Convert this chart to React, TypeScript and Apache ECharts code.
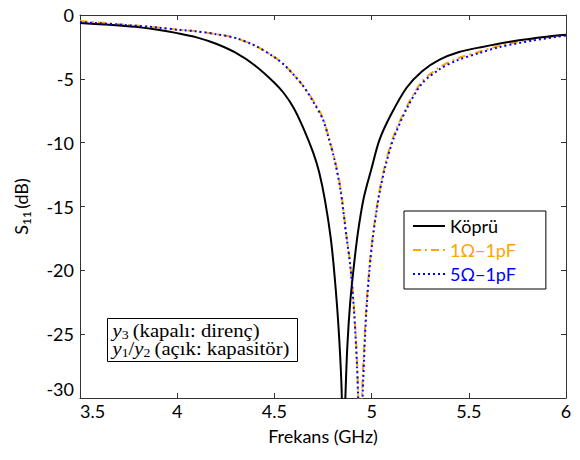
import React, { useEffect, useRef } from "react";
import * as echarts from "echarts";

// Frequency (GHz) and S11 (dB) for each curve
const freqBridge = [3.5, 3.6, 3.7, 3.8, 3.9, 4.0, 4.1, 4.2, 4.3, 4.4, 4.5, 4.55, 4.6, 4.65, 4.7, 4.73, 4.76, 4.79, 4.81, 4.83, 4.845, 4.855, 4.865, 4.875, 4.89, 4.91, 4.93, 4.96, 5.0, 5.04, 5.1, 5.18, 5.26, 5.35, 5.45, 5.57, 5.75, 5.9, 6.0];
const s11Bridge = [-0.63, -0.72, -0.82, -0.95, -1.15, -1.42, -1.75, -2.25, -2.95, -3.95, -5.3, -6.15, -7.3, -8.9, -10.8, -12.3, -14.5, -17.5, -20.5, -24.5, -29, -35, -30, -26, -22.5, -19.5, -17, -14.3, -12, -9.8, -7.8, -5.7, -4.4, -3.5, -2.9, -2.5, -2.0, -1.7, -1.55];

const freq1R = [3.5, 3.7, 3.9, 4.0, 4.1, 4.2, 4.3, 4.4, 4.5, 4.55, 4.6, 4.65, 4.7, 4.75, 4.78, 4.81, 4.84, 4.87, 4.89, 4.91, 4.925, 4.94, 4.955, 4.97, 4.99, 5.01, 5.04, 5.07, 5.11, 5.18, 5.26, 5.35, 5.44, 5.55, 5.66, 5.83, 6.0];
const s111R = [-0.47, -0.72, -0.98, -1.15, -1.28, -1.5, -1.8, -2.4, -3.3, -3.9, -4.7, -5.6, -6.7, -8.1, -9.6, -11.3, -13.5, -17.2, -19.5, -23, -27, -33, -28, -23.5, -19.5, -16.8, -13.8, -11.7, -9.6, -7.2, -5.2, -4.1, -3.4, -2.9, -2.4, -1.9, -1.6];

const freq5R = [3.5, 3.7, 3.9, 4.0, 4.1, 4.2, 4.3, 4.4, 4.5, 4.55, 4.6, 4.65, 4.7, 4.75, 4.78, 4.81, 4.84, 4.87, 4.89, 4.91, 4.925, 4.942, 4.957, 4.972, 4.99, 5.01, 5.04, 5.07, 5.11, 5.18, 5.26, 5.35, 5.44, 5.55, 5.66, 5.83, 6.0];
const s115R = [-0.55, -0.75, -0.98, -1.15, -1.28, -1.5, -1.8, -2.4, -3.3, -3.9, -4.7, -5.6, -6.8, -8.2, -9.7, -11.4, -13.7, -17.3, -19.6, -23.3, -27.5, -34, -28.5, -23.5, -19.8, -17.0, -14.0, -11.9, -9.8, -7.35, -5.35, -4.25, -3.55, -3.0, -2.5, -2.0, -1.6];

const seriesNames = ["Köprü", "1Ω−1pF", "5Ω−1pF"];
const xTicks = { min: 3.5, max: 6, step: 0.5 };
const yTicks = { min: -30, max: 0, step: 5 };
const noteLines = [
  "{i|y}{s|3}{n|\u2009(kapalı: direnç)}",
  "{i|y}{s|1}{n|/}{i|y}{s|2}{n|\u2009(açık: kapasitör)}",
];

const zip = (xs: number[], ys: number[]) => xs.map((x, i) => [x, ys[i]]);

const axisColor = "#333";
const labelFont = "Lato, 'Open Sans', sans-serif";
const serif = "'Liberation Serif', 'DejaVu Serif', serif";
const FS = 18;
const SF = 18;

export default function App() {
  const ref = useRef<HTMLDivElement>(null);
  useEffect(() => {
    document.body.style.margin = "0";
    if (!ref.current) return;
    const chart = echarts.init(ref.current, null, { renderer: "svg" });
    const grid = { left: 80, right: 14, top: 15, bottom: 62 };
    const mirrorAxis = {
      axisLine: { show: true, onZero: false, lineStyle: { color: axisColor, width: 1 } },
      axisTick: { show: true, inside: true, length: 5, lineStyle: { color: axisColor } },
      axisLabel: { show: false },
      splitLine: { show: false },
    };
    const richBox = {
      i: { fontFamily: serif, fontStyle: "italic", fontSize: SF, fill: "#000", lineHeight: 20, verticalAlign: "middle" },
      s: { fontFamily: serif, fontSize: 12, fill: "#000", lineHeight: 20, verticalAlign: "bottom" },
      n: { fontFamily: serif, fontSize: SF, fill: "#000", lineHeight: 20, verticalAlign: "middle" },
    };
    chart.setOption({
      animation: false,
      grid,
      xAxis: [
        {
          type: "value",
          min: xTicks.min,
          max: xTicks.max,
          interval: xTicks.step,
          position: "bottom",
          name: "Frekans (GHz)",
          nameLocation: "middle",
          nameGap: 29,
          nameTextStyle: { fontFamily: labelFont, fontSize: FS, color: "#000" },
          axisLine: { show: true, onZero: false, lineStyle: { color: axisColor, width: 1 } },
          axisTick: { show: true, inside: true, length: 5, lineStyle: { color: axisColor } },
          axisLabel: {
            fontFamily: labelFont,
            fontSize: FS,
            color: "#000",
            margin: 4,
            alignMinLabel: "left",
            formatter: (v: number) => String(v),
          },
          splitLine: { show: false },
        },
        {
          type: "value",
          min: xTicks.min,
          max: xTicks.max,
          interval: xTicks.step,
          position: "top",
          ...mirrorAxis,
        },
      ],
      yAxis: [
        {
          type: "value",
          min: yTicks.min,
          max: yTicks.max,
          interval: yTicks.step,
          position: "left",
          name: "{a|S}{b|11}{a|\u2009(dB)}",
          nameLocation: "middle",
          nameRotate: 90,
          nameGap: 48,
          nameTextStyle: {
            rich: {
              a: { fontFamily: labelFont, fontSize: FS, color: "#000", lineHeight: 22, verticalAlign: "middle" },
              b: { fontFamily: labelFont, fontSize: 12, color: "#000", lineHeight: 22, verticalAlign: "bottom" },
            },
          },
          axisLine: { show: true, onZero: false, lineStyle: { color: axisColor, width: 1 } },
          axisTick: { show: true, inside: true, length: 5, lineStyle: { color: axisColor } },
          axisLabel: {
            fontFamily: labelFont,
            fontSize: FS,
            color: "#000",
            margin: 6,
            verticalAlignMinLabel: "bottom",
          },
          splitLine: { show: false },
        },
        {
          type: "value",
          min: yTicks.min,
          max: yTicks.max,
          interval: yTicks.step,
          position: "right",
          ...mirrorAxis,
        },
      ],
      legend: {
        orient: "vertical",
        left: 404,
        top: 211,
        backgroundColor: "#fff",
        borderColor: "#000",
        borderWidth: 1,
        borderRadius: 0,
        padding: [4, 30, 4, 8],
        itemWidth: 32,
        itemHeight: 14,
        itemGap: 2,
        itemStyle: { opacity: 0 },
        textStyle: { fontFamily: labelFont, fontSize: FS, lineHeight: 22 },
        data: [
          { name: seriesNames[0], textStyle: { color: "#000" } },
          { name: seriesNames[1], textStyle: { color: "#FFA500" } },
          { name: seriesNames[2], textStyle: { color: "#0000FF" } },
        ],
      },
      graphic: [
        {
          type: "group",
          left: 107,
          top: 318,
          children: [
            {
              type: "rect",
              shape: { x: 0, y: 0, width: 190, height: 43 },
              style: { fill: "#fff", stroke: "#000", lineWidth: 1 },
            },
            {
              type: "text",
              x: 5,
              y: 12,
              scaleX: 1.15,
              style: { text: noteLines[0], verticalAlign: "middle", rich: richBox },
            },
            {
              type: "text",
              x: 5,
              y: 30,
              scaleX: 1.15,
              style: { text: noteLines[1], verticalAlign: "middle", rich: richBox },
            },
          ],
        },
      ],
      series: [
        {
          name: seriesNames[0],
          type: "line",
          data: zip(freqBridge, s11Bridge),
          showSymbol: false,
          symbol: "none",
          smooth: 0.3,
          clip: true,
          lineStyle: { color: "#000", width: 2, type: "solid" },
          itemStyle: { color: "#000" },
          z: 3,
        },
        {
          name: seriesNames[1],
          type: "line",
          data: zip(freq1R, s111R),
          showSymbol: false,
          symbol: "none",
          smooth: 0.3,
          clip: true,
          lineStyle: { color: "#FFA500", width: 2, type: [8, 4, 2, 4] },
          itemStyle: { color: "#FFA500" },
          z: 2,
        },
        {
          name: seriesNames[2],
          type: "line",
          data: zip(freq5R, s115R),
          showSymbol: false,
          symbol: "none",
          smooth: 0.3,
          clip: true,
          lineStyle: { color: "#0000FF", width: 2, type: [2, 3] },
          itemStyle: { color: "#0000FF" },
          z: 4,
        },
      ],
    });
    return () => chart.dispose();
  }, []);
  return <div ref={ref} style={{ width: 580, height: 460, background: "#fff" }} />;
}
